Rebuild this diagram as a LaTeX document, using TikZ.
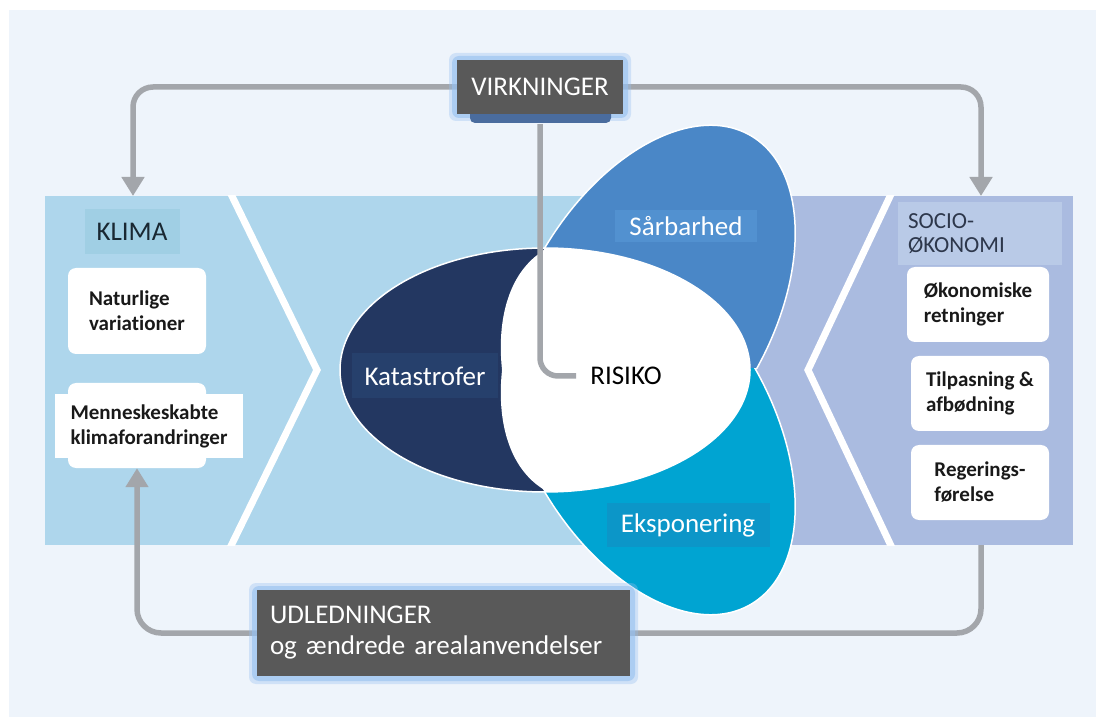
\documentclass[tikz,border=0pt]{standalone}
\usepackage{fontspec}
\setmainfont{Carlito}[Ligatures=NoCommon]
\usetikzlibrary{arrows.meta,calc}
\definecolor{bgc}{RGB}{238,244,251}
\definecolor{bandblue}{RGB}{174,214,236}
\definecolor{bandlav}{RGB}{170,187,224}
\definecolor{klimac}{RGB}{160,207,228}
\definecolor{socioc}{RGB}{185,202,231}
\definecolor{arrowgray}{RGB}{163,166,171}
\definecolor{darkfill}{RGB}{89,89,89}
\definecolor{glowc}{RGB}{150,192,240}
\definecolor{tabc}{RGB}{74,108,158}
\definecolor{sarbc}{RGB}{74,135,199}
\definecolor{sarblab}{RGB}{82,145,208}
\definecolor{ekspc}{RGB}{0,164,210}
\definecolor{eksplab}{RGB}{12,150,200}
\definecolor{katc}{RGB}{35,55,97}
\definecolor{katlab}{RGB}{38,64,108}
\definecolor{txtdark}{RGB}{25,25,25}
\definecolor{sociotxt}{RGB}{45,55,75}
\definecolor{klimatxt}{RGB}{25,40,50}
\pgfdeclarelayer{bg}
\pgfdeclarelayer{conn}
\pgfsetlayers{bg,conn,main}
\begin{document}
\begin{tikzpicture}[x=1pt,y=-1pt,
  conn/.style={draw=arrowgray, line width=5.5pt},
  arrowtip/.style={-{Triangle[width=22pt,length=19pt]}},
  bigtext/.style={font=\fontsize{27}{31}\selectfont},
  boxtext/.style={font=\fontsize{21}{25}\selectfont\bfseries, text=txtdark, align=left},
  wbox/.style={fill=white, rounded corners=8pt, inner sep=0pt},
  petallab/.style={bigtext, text=white, inner sep=0pt},
  glow/.style={fill=glowc, rounded corners=7pt},
]
\useasboundingbox (0,0) rectangle (1096,727);
\begin{pgfonlayer}{bg}
\fill[white] (0,0) rectangle (1096,727);
\fill[bgc] (9,10) rectangle (1096,717);
\fill[bandblue] (45,196) rectangle (757,545);
\fill[bandlav] (757,196) rectangle (1073,545);
\begin{scope}
\clip (45,196) rectangle (1073,545);
\draw[white, line width=7pt, line join=miter] (229,190) -- (317,370) -- (229,550);
\draw[white, line width=7pt, line join=miter] (893,190) -- (808,370) -- (893,550);
\end{scope}
\begin{scope}
\clip (0,0) rectangle (1096,369);
\fill[sarbc, draw=white, line width=1.5pt, rotate around={60:(648,313)}] (648,313) ellipse [x radius=205pt, y radius=122pt];
\end{scope}
\begin{scope}
\clip (0,369) rectangle (1096,727);
\fill[ekspc, draw=white, line width=1.5pt, rotate around={-60:(648,427)}] (648,427) ellipse [x radius=205pt, y radius=122pt];
\end{scope}
\fill[katc, draw=white, line width=1.5pt] (545,370) ellipse [x radius=205pt, y radius=122pt];
\begin{scope}
\clip (545,370) ellipse [x radius=205pt, y radius=122pt];
\fill[white, rotate around={60:(648,313)}] (648,313) ellipse [x radius=205pt, y radius=122pt];
\fill[white, rotate around={-60:(648,427)}] (648,427) ellipse [x radius=205pt, y radius=122pt];
\end{scope}
\end{pgfonlayer}

% petal labels
\node[petallab, fill=sarblab, minimum width=142pt, minimum height=32pt] (sarb) at (686,226) {Sårbarhed};
\node[petallab, fill=katlab, minimum width=146pt, minimum height=45pt] (kat) at (425,376) {Katastrofer};
\node[petallab, fill=eksplab, minimum width=163pt, minimum height=44pt] (eksp) at (688,525) {Eksponering};
\node[bigtext, text=black, inner xsep=14pt, inner ysep=2pt] (risiko) at (626,376) {RISIKO};

% KLIMA side
\node[fill=klimac, bigtext, text=klimatxt, minimum width=95pt, minimum height=45pt, inner sep=0pt] (klima) at (132,232) {KLIMA};
\node[wbox, boxtext, minimum width=138pt, minimum height=86pt] (natur) at (137,311) {Naturlige\\variationer};
\node[wbox, minimum width=138pt, minimum height=85pt] (mennbox) at (137,425.5) {};
\node[fill=white, boxtext, minimum width=188pt, minimum height=64pt, inner sep=0pt] (menn) at (149,426) {Menneskeskabte\\klimaforandringer};

% SOCIO side
\node[fill=socioc, text=sociotxt, font=\fontsize{23}{24}\selectfont, minimum width=164pt, minimum height=63pt, text width=144pt, inner xsep=10pt, inner ysep=0pt, align=left] (socio) at (980,233.5) {SOCIO-\\ØKONOMI};
\node[wbox, boxtext, minimum width=142pt, minimum height=75pt] (okon) at (978,304.5) {Økonomiske\\retninger};
\node[wbox, boxtext, minimum width=138pt, minimum height=75pt] (tilp) at (980,393.5) {Tilpasning \&\\afbødning};
\node[wbox, boxtext, minimum width=138pt, minimum height=75pt] (reg) at (980,482.5) {Regerings-\\førelse};

% VIRKNINGER
\fill[glow, opacity=0.35] (449,53) rectangle (631,121);
\fill[glow, opacity=0.6] (452,56) rectangle (628,118);
\fill[tabc, rounded corners=5pt] (470,104) rectangle (611,123);
\node[fill=darkfill, text=white, bigtext, minimum width=166pt, minimum height=54pt, inner sep=0pt] (virk) at (540,87) {VIRKNINGER};

% UDLEDNINGER
\fill[glow, opacity=0.35] (249,583) rectangle (638,684);
\fill[glow, opacity=0.6] (252,586) rectangle (635,681);
\node[fill=darkfill, text=white, bigtext, minimum width=373pt, minimum height=86pt, text width=347pt, inner xsep=13pt, inner ysep=0pt, align=left] (udl) at (443.5,633) {UDLEDNINGER\\og ændrede arealanvendelser};

\coordinate (klimatop) at (133,196);
\coordinate (sociotop) at (981,196);
\coordinate (sociobot) at (981,545);

\begin{pgfonlayer}{conn}
\draw[conn, arrowtip, rounded corners=20pt] (virk.west) -| (klimatop);
\draw[conn, arrowtip, rounded corners=20pt] (virk.east) -| (sociotop);
\draw[conn, rounded corners=18pt] ($(virk.south)+(0,10)$) |- (risiko.west);
\draw[conn, rounded corners=24pt] (sociobot) |- (udl.east);
\draw[conn, arrowtip, rounded corners=24pt] (udl.west) -| (mennbox.south);
\end{pgfonlayer}
\end{tikzpicture}
\end{document}
